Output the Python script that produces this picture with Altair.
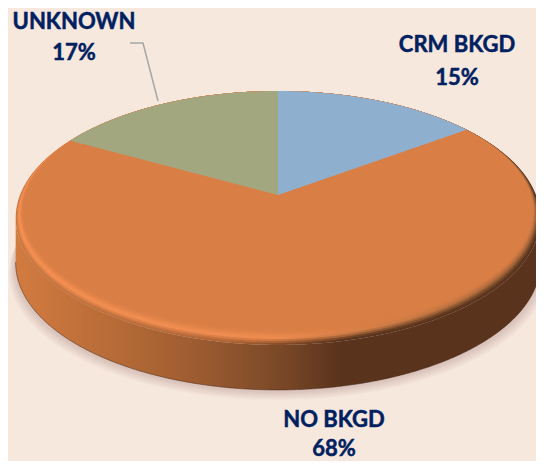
import numpy as np
import pandas as pd
import altair as alt

# --- chart values ---
LABELS = ["CRM BKGD", "NO BKGD", "UNKNOWN"]
SHARES = [15, 68, 17]
SLICE_COLORS = ["#8fafcf", "#d97f46", "#a3a780"]
PCT_TEXT = ["15%", "68%", "17%"]
LABEL_X = [457, 334, 74]
NAME_Y = [45, 420, 22]
PCT_Y = [78, 449, 53]
LEADER_X = [130, 143, 158]
LEADER_Y = [43, 43, 101]

# --- page & view geometry ---
M = 8
W, H = 544 - 2 * M, 469 - 2 * M
BG = "#f7e8de"
CX, CY = 278.0, 195.0      # pie centre in perspective
A, B, K = 258.0, 122.8, 0.181
TOP = 91.0
DEPTH = 45.0
NAVY = "#002060"

XS = alt.X("x:Q", scale=alt.Scale(domain=[M, W + M], nice=False, zero=False), axis=None)
YS = alt.Y("y:Q", scale=alt.Scale(domain=[H + M, M], nice=False, zero=False), axis=None)


def project(theta):
    """Clockwise angle from 12 o'clock on the disc -> picture position."""
    u, v = np.sin(theta), np.cos(theta)
    w = 1 + K * v
    return CX + A * u / w, CY - B * v / w


def profile(px, py):
    """Upper and lower boundary of a closed polygon for every x."""
    n = len(px)
    rows = []
    for x in np.unique(np.round(px, 2)):
        hits = []
        for i in range(n):
            x0, y0, x1, y1 = px[i], py[i], px[(i + 1) % n], py[(i + 1) % n]
            if min(x0, x1) - 0.006 <= x <= max(x0, x1) + 0.006:
                if abs(x1 - x0) < 1e-6:
                    hits += [y0, y1]
                else:
                    t = min(1, max(0, (x - x0) / (x1 - x0)))
                    hits.append(y0 + t * (y1 - y0))
        if hits:
            rows.append({"x": float(x), "y": round(float(min(hits)), 2), "y2": round(float(max(hits)), 2)})
    return pd.DataFrame(rows)


def disc(inset=0.0, dy=0.0, grow=0.0, n=360):
    t = np.linspace(0, 2 * np.pi, n, endpoint=False)
    x, y = project(t)
    sx = 1 - (inset - grow) / 262
    sy = 1 - 2 * inset / 254
    return CX + (x - CX) * sx, TOP + (y - TOP) * sy + dy


def area(df, color, opacity=1.0):
    return alt.Chart(df).mark_area(orient="vertical", color=color, opacity=opacity, strokeWidth=0, clip=True).encode(
        x=XS, y=YS, y2="y2:Q"
    )


def grad(*stops):
    return alt.Gradient(
        gradient="linear", x1=0, x2=1, y1=0, y2=0,
        stops=[alt.GradientStop(offset=o, color=c) for o, c in stops],
    )


layers = []

# soft ground shadow
for d in (11, 9, 7, 5, 3):
    sx, sy = disc(dy=DEPTH + d * 0.9, grow=d * 0.6)
    layers.append(area(profile(sx, sy), "#4a2a18", 0.035))

# side wall: lower outline of the disc to the same outline moved down
ex, ey = disc()
ex2, ey2 = disc(dy=DEPTH)
wall_top = profile(ex, ey)
wall_bot = profile(ex2, ey2)
wall = pd.DataFrame({"x": wall_top["x"], "y": wall_top["y2"], "y2": wall_bot["y2"]})
layers.append(area(wall, grad((0, "#d27b40"), (0.2, "#b56a36"), (0.36, "#9a5a30"),
                              (0.5, "#7b4928"), (0.62, "#5a331c"), (1, "#5a331c"))))
edge = pd.DataFrame({"x": wall_bot["x"], "y": wall_bot["y2"]})
layers.append(alt.Chart(edge).mark_line(color="#3f2210", opacity=0.5, strokeWidth=1, clip=True).encode(x=XS, y=YS))

# bevelled rim of the top face
rims = [
    (0.0, grad((0, "#c8763f"), (0.4, "#b06435"), (0.62, "#5a331c"), (1, "#5a331c")), 1.0),
    (1.0, grad((0, "#d87f45"), (0.45, "#bb6c3a"), (0.66, "#6a3f22"), (1, "#5c361e")), 1.0),
    (2.0, grad((0, "#e98a4e"), (0.47, "#d67c45"), (0.7, "#8d5731"), (1, "#6e4325")), 1.0),
    (3.0, grad((0, "#f58f52"), (0.5, "#ee8c50"), (0.72, "#b06c3c"), (1, "#84532f")), 1.0),
    (4.0, grad((0, "#f08c50"), (0.5, "#ea894e"), (0.75, "#cc7a44"), (1, "#a4653a")), 1.0),
    (5.0, SLICE_COLORS[1], 0.35),
    (5.8, SLICE_COLORS[1], 0.5),
    (6.6, SLICE_COLORS[1], 0.7),
    (7.4, SLICE_COLORS[1], 1.0),
]
for inset, col, op in rims:
    sx, sy = disc(inset=inset)
    layers.append(area(profile(sx, sy), col, op))

# flat slices on top (angles come from the shares)
fractions = np.cumsum([0] + SHARES) / sum(SHARES) * 2 * np.pi
for i in (0, 2):
    t = np.linspace(fractions[i], fractions[i + 1], 180)
    sx, sy = project(t)
    px = np.concatenate([[CX], sx])
    py = np.concatenate([[CY], sy])
    layers.append(area(profile(px, py), SLICE_COLORS[i]))

# leader line
leader = pd.DataFrame({"x": LEADER_X, "y": LEADER_Y, "o": range(len(LEADER_X))})
layers.append(alt.Chart(leader).mark_line(color="#a6a6a6", strokeWidth=1.5).encode(x=XS, y=YS, order="o:O"))

# labels
names = pd.DataFrame({"x": LABEL_X, "y": NAME_Y, "t": LABELS})
pcts = pd.DataFrame({"x": LABEL_X, "y": PCT_Y, "t": PCT_TEXT})
for df in (names, pcts):
    layers.append(alt.Chart(df).mark_text(font="Lato", fontWeight="bold", fontSize=22, color=NAVY,
                                          stroke=NAVY, strokeWidth=0.5,
                                          align="center", baseline="middle").encode(x=XS, y=YS, text="t:N"))

chart = (
    alt.layer(*layers)
    .properties(
        width=W, height=H, padding=0, background=BG,
        autosize=alt.AutoSizeParams(type="none"),
    )
    .configure_view(stroke=None)
)

chart.save("out.html", embed_options={"renderer": "svg", "actions": False})
